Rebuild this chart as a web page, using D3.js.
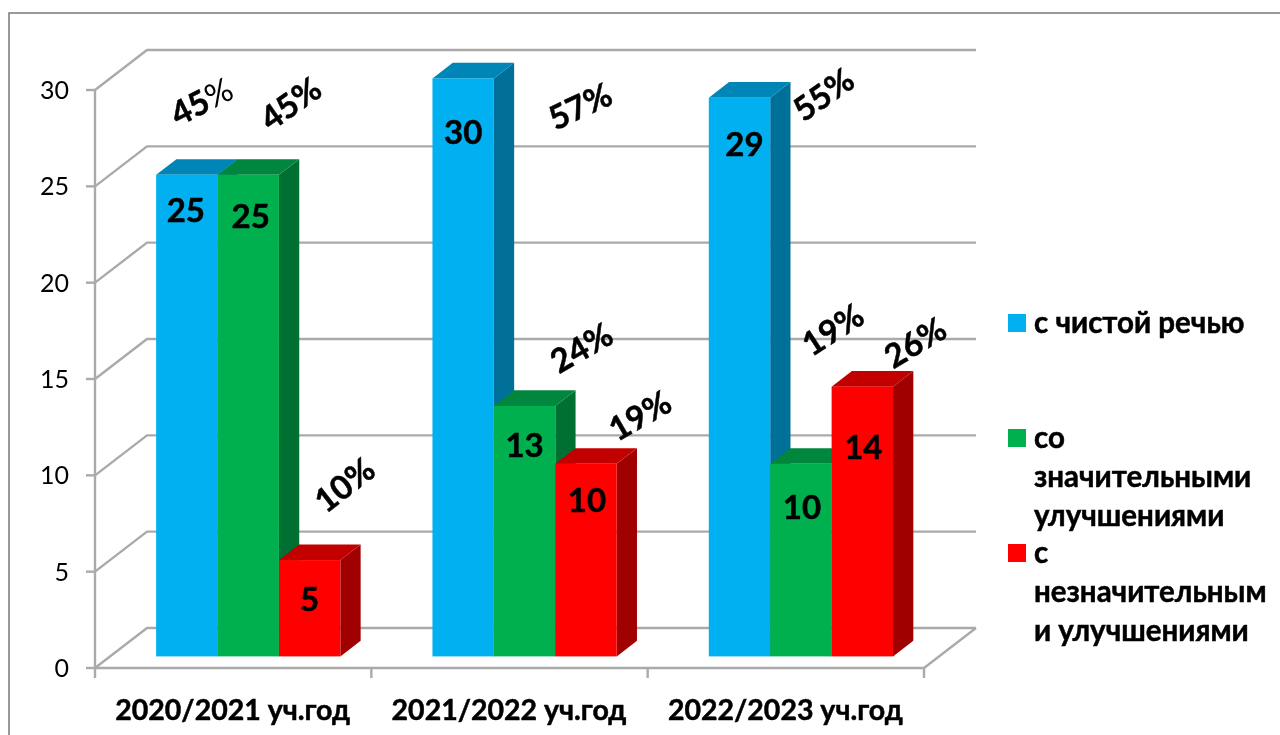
<!DOCTYPE html>
<html>

<head>
    <meta charset="utf-8" />
    <title>Chart</title>
    <script src="https://cdn.jsdelivr.net/npm/d3@7/dist/d3.min.js"></script>
    <style>
        html, body { margin: 0; padding: 0; background: #fff; overflow: hidden; }
        text { font-family: Lato, "Noto Sans", sans-serif; fill: #000; }
        .heavy { font-weight: 700; stroke: #000; stroke-width: 0.5px; }
    </style>
</head>

<body>
</body>
<script>
    var categories = ["2020/2021 уч.год", "2021/2022 уч.год", "2022/2023 уч.год"]
    var clean = [25, 30, 29]
    var major = [25, 13, 10]
    var minor = [5, 10, 14]
    var cleanPct = ["45", "57", "55"]
    var majorPct = ["45", "24", "19"]
    var minorPct = ["10", "19", "26"]
    var yTicks = [0, 5, 10, 15, 20, 25, 30]
    var legendLines = [["с чистой речью"], ["со", "значительными", "улучшениями"], ["с", "незначительным", "и улучшениями"]]

    var colors = {
        face: ["#00B0F0", "#00B050", "#FF0000"],
        top: ["#0486B6", "#00873D", "#C30000"],
        side: ["#006F98", "#006F32", "#A00000"]
    }
    var series = [clean, major, minor]
    var seriesPct = [cleanPct, majorPct, minorPct]
    var DEPTH = { x: 52, y: 40 }
    var BAR_Z = [0.29, 0.68]

    // hand placed labels, [series][category], relative to the bar's front top centre
    var valueShift = [
        [[-1, 47], [0, 66], [5, 58]],
        [[2.5, 53], [0, 51], [1, 55]],
        [[0, 51], [1, 48], [1, 72]]
    ]
    var pctShift = [
        [[15, -73, -27], [117, 28, -25], [84, -3, -35]],
        [[42.5, -71, -35], [57, -58, -30], [32, -134, -33]],
        [[35, -75, -38], [54, -48, -30], [53, -44, -31]]
    ]

    var svg = d3.select("body").append("svg").attr("width", 1280).attr("height", 735)
    var defs = svg.append("defs")
    defs.append("filter").attr("id", "soft").attr("x", "-2%").attr("y", "-2%").attr("width", "104%").attr("height", "104%")
        .append("feGaussianBlur").attr("stdDeviation", 0.55)
    var chart = svg.append("g").attr("filter", "url(#soft)")

    chart.append("rect").attr("x", 9).attr("y", 13).attr("width", 1290).attr("height", 740)
        .attr("fill", "none").attr("stroke", "#808080").attr("stroke-width", 1.6)

    var x = d3.scaleBand().domain(categories).range([95, 924])
    var inner = d3.scaleBand().domain(d3.range(3)).range([0, x.bandwidth()]).paddingOuter(0.75)
    var y = d3.scaleLinear().domain([0, 30]).range([668, 90])

    function px(xv, z) { return xv + DEPTH.x * z }
    function py(v, z) { return y(v) - DEPTH.y * z }

    function initWalls() {
        var g = chart.append("g").attr("fill", "none").attr("stroke", "#aaaaaa").attr("stroke-width", 2.4)
        yTicks.forEach(function (t) {
            g.append("path").attr("d", d3.line()([[95, y(t)], [px(95, 1), py(t, 1)], [px(924, 1), py(t, 1)]]))
            g.append("line").attr("x1", 86).attr("x2", 95).attr("y1", y(t)).attr("y2", y(t))
            chart.append("text").attr("x", 69).attr("y", y(t) + 9).attr("text-anchor", "end")
                .style("font-size", "25px").text(t)
        })
        g.append("path").attr("d", d3.line()([[95, y(30)], [95, y(0)], [924, y(0)], [px(924, 1), py(0, 1)]]))
        categories.concat("end").forEach(function (c) {
            var xv = c == "end" ? 924 : x(c)
            g.append("line").attr("x1", xv).attr("x2", xv).attr("y1", 668).attr("y2", 678)
        })
        categories.forEach(function (c) {
            chart.append("text").attr("class", "heavy").attr("x", x(c) + x.bandwidth() / 2 - 0.5).attr("y", 720).attr("text-anchor", "middle")
                .style("font-size", "28.5px").text(c)
        })
    }

    function renderBars() {
        categories.forEach(function (c, ci) {
            series.forEach(function (values, si) {
                var v = values[ci]
                var x0 = x(c) + inner(si), x1 = x0 + inner.bandwidth()
                var z0 = BAR_Z[0], z1 = BAR_Z[1]
                var poly = d3.line()
                var g = chart.append("g")
                g.append("path").attr("fill", colors.side[si]).attr("d", poly([
                    [px(x1, z0), py(v, z0)], [px(x1, z1), py(v, z1)], [px(x1, z1), py(0, z1)], [px(x1, z0), py(0, z0)]]) + "Z")
                g.append("path").attr("fill", colors.top[si]).attr("d", poly([
                    [px(x0, z0), py(v, z0)], [px(x0, z1), py(v, z1)], [px(x1, z1), py(v, z1)], [px(x1, z0), py(v, z0)]]) + "Z")
                g.append("rect").attr("fill", colors.face[si]).attr("x", px(x0, z0)).attr("y", py(v, z0))
                    .attr("width", x1 - x0).attr("height", py(0, z0) - py(v, z0))
            })
        })
    }

    function renderLabels() {
        categories.forEach(function (c, ci) {
            series.forEach(function (values, si) {
                var v = values[ci]
                var cx = px(x(c) + inner(si) + inner.bandwidth() / 2, BAR_Z[0])
                var top = py(v, BAR_Z[0])
                var vs = valueShift[si][ci], ps = pctShift[si][ci]
                chart.append("text").attr("class", "heavy").attr("x", cx + vs[0]).attr("y", top + vs[1]).attr("text-anchor", "middle")
                    .style("font-size", "33px").text(v)
                var t = chart.append("text").attr("text-anchor", "middle").attr("dy", "0.35em")
                    .attr("transform", "translate(" + (cx + ps[0]) + "," + (top + ps[1]) + ") rotate(" + ps[2] + ")")
                    .style("font-size", "33px")
                t.append("tspan").attr("class", "heavy").text(seriesPct[si][ci])
                // the first label has a thin percent sign in the original
                var thin = si == 0 && ci == 0
                t.append("tspan").attr("class", thin ? null : "heavy").text("%")
            })
        })
    }

    function renderLegend() {
        var tops = [314, 429, 544]
        legendLines.forEach(function (lines, i) {
            chart.append("rect").attr("x", 1008).attr("y", tops[i]).attr("width", 18).attr("height", 18).attr("fill", colors.face[i])
            lines.forEach(function (l, j) {
                chart.append("text").attr("class", "heavy").attr("x", 1034).attr("y", tops[i] + 19 + j * 39)
                    .style("font-size", "29.5px").text(l)
            })
        })
    }

    initWalls()
    renderBars()
    renderLabels()
    renderLegend()
</script>

</html>
